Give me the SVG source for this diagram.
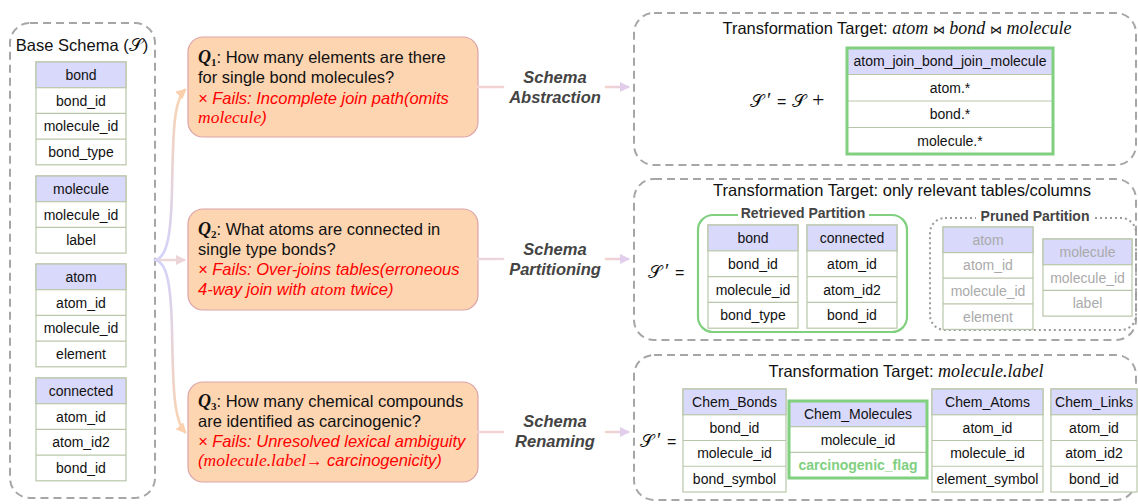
<svg xmlns="http://www.w3.org/2000/svg" width="1138" height="504" viewBox="0 0 1138 504">
<style>
  .panel{fill:none;stroke:#a6a6a6;stroke-width:2;stroke-dasharray:8 5}
  .t{font-family:"Liberation Sans",Arial,sans-serif;font-size:14px;fill:#111;text-anchor:middle}
  .tg{font-family:"Liberation Sans",Arial,sans-serif;font-size:14px;fill:#aaaaaa;text-anchor:middle}
  .cell{fill:#ffffff;stroke:#b9c6a9;stroke-width:1.2}
  .hdr{fill:#d9d9fb;stroke:#b9c6a9;stroke-width:1.2}
  .big{font-family:"Liberation Sans",Arial,sans-serif;font-size:16.5px;fill:#111}
  .q{fill:#fdd5b1;stroke:#dca3a8;stroke-width:1.2}
  .red{fill:#ff0000;font-style:italic}
  .mi{font-family:"Liberation Serif","Times New Roman",serif;font-style:italic}
  .lab{font-family:"Liberation Sans",Arial,sans-serif;font-size:16.5px;font-weight:bold;font-style:italic;fill:#444;text-anchor:middle}
  .plab{font-family:"Liberation Sans",Arial,sans-serif;font-size:14px;font-weight:bold;fill:#444;text-anchor:middle}
  .math{font-family:"DejaVu Serif","DejaVu Sans","Liberation Serif",serif;font-size:18px;fill:#111}
  .pr{font-family:"Liberation Serif",serif;font-size:20px}
  .eq{font-family:"Liberation Sans",sans-serif;font-size:16px}
  .green{fill:none;stroke:#80d080;stroke-width:3}
</style>
<defs>
  <marker id="ahPeach" viewBox="0 0 10 10" refX="8" refY="5" markerWidth="4" markerHeight="4" orient="auto"><path d="M0,0 L10,5 L0,10 z" fill="#fbd0ac"/></marker>
  <marker id="ahPink" viewBox="0 0 10 10" refX="8" refY="5" markerWidth="4" markerHeight="4" orient="auto"><path d="M0,0 L10,5 L0,10 z" fill="#ecd4d8"/></marker>
  <marker id="ahLilac" viewBox="0 0 10 10" refX="8" refY="5" markerWidth="4" markerHeight="4" orient="auto"><path d="M0,0 L10,5 L0,10 z" fill="#e2cdea"/></marker>
  <linearGradient id="gUp" gradientUnits="userSpaceOnUse" x1="0" y1="260" x2="0" y2="89">
    <stop offset="0" stop-color="#d2d2fb"/><stop offset="1" stop-color="#fbd3b0"/>
  </linearGradient>
  <linearGradient id="gDown" gradientUnits="userSpaceOnUse" x1="0" y1="260" x2="0" y2="434">
    <stop offset="0" stop-color="#d2d2fb"/><stop offset="1" stop-color="#fbd3b0"/>
  </linearGradient>
  <linearGradient id="gRight" gradientUnits="userSpaceOnUse" x1="605" y1="0" x2="632" y2="0">
    <stop offset="0" stop-color="#f3d3cc"/><stop offset="1" stop-color="#e2cdea"/>
  </linearGradient>
</defs>

<!-- Left panel: base schema -->
<g id="base-schema">
  <rect class="panel" x="10" y="23" width="145" height="475" rx="20"/>
  <text class="big" x="82" y="51" text-anchor="middle">Base Schema (<tspan class="math" font-size="15">𝒮</tspan>)</text>
</g>
<g id="tbl-bond">
  <rect class="cell" x="36" y="62" width="90" height="102.8"/>
  <rect class="hdr" x="36" y="62" width="90" height="25.7"/>
  <line class="cell" x1="36" y1="113.4" x2="126" y2="113.4"/>
  <line class="cell" x1="36" y1="139.1" x2="126" y2="139.1"/>
  <text class="t" x="81" y="79.9">bond</text>
  <text class="t" x="81" y="105.6">bond_id</text>
  <text class="t" x="81" y="131.3">molecule_id</text>
  <text class="t" x="81" y="157">bond_type</text>
</g>
<g id="tbl-molecule">
  <rect class="cell" x="36" y="176" width="90" height="77.1"/>
  <rect class="hdr" x="36" y="176" width="90" height="25.7"/>
  <line class="cell" x1="36" y1="227.4" x2="126" y2="227.4"/>
  <text class="t" x="81" y="193.9">molecule</text>
  <text class="t" x="81" y="219.6">molecule_id</text>
  <text class="t" x="81" y="245.3">label</text>
</g>
<g id="tbl-atom">
  <rect class="cell" x="36" y="264" width="90" height="102.8"/>
  <rect class="hdr" x="36" y="264" width="90" height="25.7"/>
  <line class="cell" x1="36" y1="315.4" x2="126" y2="315.4"/>
  <line class="cell" x1="36" y1="341.1" x2="126" y2="341.1"/>
  <text class="t" x="81" y="281.9">atom</text>
  <text class="t" x="81" y="307.6">atom_id</text>
  <text class="t" x="81" y="333.3">molecule_id</text>
  <text class="t" x="81" y="359">element</text>
</g>
<g id="tbl-connected">
  <rect class="cell" x="36" y="378" width="90" height="102.8"/>
  <rect class="hdr" x="36" y="378" width="90" height="25.7"/>
  <line class="cell" x1="36" y1="429.4" x2="126" y2="429.4"/>
  <line class="cell" x1="36" y1="455.1" x2="126" y2="455.1"/>
  <text class="t" x="81" y="395.9">connected</text>
  <text class="t" x="81" y="421.6">atom_id</text>
  <text class="t" x="81" y="447.3">atom_id2</text>
  <text class="t" x="81" y="473">bond_id</text>
</g>

<!-- Question nodes -->
<g id="q1">
  <rect class="q" x="188" y="37" width="290" height="100" rx="15"/>
  <text class="big" x="198" y="63"><tspan font-family="Liberation Serif,serif" font-weight="bold" font-style="italic" font-size="18">Q</tspan><tspan font-family="Liberation Serif,serif" font-weight="bold" font-size="11" dy="3">1</tspan><tspan dy="-3">: How many elements are there</tspan></text>
  <text class="big" x="198" y="83">for single bond molecules?</text>
  <text class="big red" x="198" y="104">× Fails: Incomplete join path(omits</text>
  <text class="big red" x="198" y="123"><tspan class="mi" font-size="17.5">molecule</tspan>)</text>
</g>
<g id="q2">
  <rect class="q" x="188" y="209" width="290" height="101" rx="15"/>
  <text class="big" x="198" y="235"><tspan font-family="Liberation Serif,serif" font-weight="bold" font-style="italic" font-size="18">Q</tspan><tspan font-family="Liberation Serif,serif" font-weight="bold" font-size="11" dy="3">2</tspan><tspan dy="-3">: What atoms are connected in</tspan></text>
  <text class="big" x="198" y="255">single type bonds?</text>
  <text class="big red" x="198" y="275">× Fails: Over-joins tables(erroneous</text>
  <text class="big red" x="198" y="295">4-way join with <tspan class="mi" font-size="17.5">atom</tspan> twice)</text>
</g>
<g id="q3">
  <rect class="q" x="188" y="382" width="290" height="100" rx="15"/>
  <text class="big" x="198" y="407"><tspan font-family="Liberation Serif,serif" font-weight="bold" font-style="italic" font-size="18">Q</tspan><tspan font-family="Liberation Serif,serif" font-weight="bold" font-size="11" dy="3">3</tspan><tspan dy="-3">: How many chemical compounds</tspan></text>
  <text class="big" x="198" y="427">are identified as carcinogenic?</text>
  <text class="big red" x="198" y="447">× Fails: Unresolved lexical ambiguity</text>
  <text class="big red" x="198" y="466">(<tspan class="mi" font-size="17.5">molecule.label</tspan>→ carcinogenicity)</text>
</g>

<!-- Method labels -->
<g id="lbl-abstraction">
  <text class="lab" x="555" y="83">Schema</text>
  <text class="lab" x="555" y="103">Abstraction</text>
</g>
<g id="lbl-partitioning">
  <text class="lab" x="555" y="255">Schema</text>
  <text class="lab" x="555" y="275">Partitioning</text>
</g>
<g id="lbl-renaming">
  <text class="lab" x="555" y="427">Schema</text>
  <text class="lab" x="555" y="447">Renaming</text>
</g>

<!-- Connectors -->
<g id="connectors" fill="none" stroke-width="2.6" stroke-linecap="round">
  <path d="M155,260 C167,258 171,235 172,190 C173,130 174,100 185,90" stroke="url(#gUp)" marker-end="url(#ahPeach)"/>
  <path d="M155,260 L184,260" stroke="#ecd8d8" marker-end="url(#ahPink)"/>
  <path d="M155,260 C167,262 171,285 172,330 C173,390 174,420 185,432" stroke="url(#gDown)" marker-end="url(#ahPeach)"/>
  <line x1="478" y1="87" x2="503" y2="87" stroke="#f2d2d2"/>
  <line x1="478" y1="259" x2="503" y2="259" stroke="#ecd6dc"/>
  <line x1="478" y1="432" x2="503" y2="432" stroke="#f2d2d2"/>
  <line x1="606" y1="87" x2="628" y2="87" stroke="url(#gRight)" marker-end="url(#ahLilac)"/>
  <line x1="606" y1="259" x2="628" y2="259" stroke="url(#gRight)" marker-end="url(#ahLilac)"/>
  <line x1="606" y1="432" x2="628" y2="432" stroke="url(#gRight)" marker-end="url(#ahLilac)"/>
</g>

<!-- Panel 1: abstraction -->
<g id="panel-abstraction">
  <rect class="panel" x="634" y="13" width="502" height="152" rx="20"/>
  <text class="big" x="897" y="34" text-anchor="middle">Transformation Target: <tspan class="mi" font-size="18">atom</tspan> <tspan font-size="12">⋈</tspan> <tspan class="mi" font-size="18">bond</tspan> <tspan font-size="12">⋈</tspan> <tspan class="mi" font-size="18">molecule</tspan></text>
  <text class="math" x="750" y="107">𝒮<tspan class="pr" dx="3">′</tspan> <tspan class="eq">=</tspan> 𝒮 <tspan font-family="Liberation Serif,serif" font-size="22">+</tspan></text>
</g>
<g id="tbl-joined">
  <rect x="847" y="48" width="206" height="106" fill="#fff"/>
  <rect x="847" y="48" width="206" height="26.5" fill="#d9d9fb"/>
  <line class="cell" x1="847" y1="74.5" x2="1053" y2="74.5"/>
  <line class="cell" x1="847" y1="101" x2="1053" y2="101"/>
  <line class="cell" x1="847" y1="127.5" x2="1053" y2="127.5"/>
  <rect class="green" x="847" y="48" width="206" height="106"/>
  <text class="t" x="950" y="66.2">atom_join_bond_join_molecule</text>
  <text class="t" x="950" y="92.7">atom.*</text>
  <text class="t" x="950" y="119.2">bond.*</text>
  <text class="t" x="950" y="145.7">molecule.*</text>
</g>

<!-- Panel 2: partitioning -->
<g id="panel-partitioning">
  <rect class="panel" x="634" y="179" width="502" height="161" rx="20"/>
  <text class="big" x="902" y="196" text-anchor="middle">Transformation Target: only relevant tables/columns</text>
  <text class="math" x="648" y="278">𝒮<tspan class="pr" dx="3">′</tspan> <tspan class="eq">=</tspan></text>
</g>
<g id="retrieved-partition">
  <rect x="698" y="215" width="209" height="117" rx="15" fill="none" stroke="#80d080" stroke-width="2.2"/>
  <rect x="738" y="206" width="131" height="16" fill="#fff"/>
  <text class="plab" x="803" y="218">Retrieved Partition</text>
</g>
<g id="r-bond">
  <rect class="cell" x="708" y="225" width="90" height="103.2"/>
  <rect class="hdr" x="708" y="225" width="90" height="25.8"/>
  <line class="cell" x1="708" y1="276.6" x2="798" y2="276.6"/>
  <line class="cell" x1="708" y1="302.4" x2="798" y2="302.4"/>
  <text class="t" x="753" y="243">bond</text>
  <text class="t" x="753" y="268.7">bond_id</text>
  <text class="t" x="753" y="294.5">molecule_id</text>
  <text class="t" x="753" y="320.3">bond_type</text>
</g>
<g id="r-connected">
  <rect class="cell" x="807" y="225" width="90" height="103.2"/>
  <rect class="hdr" x="807" y="225" width="90" height="25.8"/>
  <line class="cell" x1="807" y1="276.6" x2="897" y2="276.6"/>
  <line class="cell" x1="807" y1="302.4" x2="897" y2="302.4"/>
  <text class="t" x="852" y="243">connected</text>
  <text class="t" x="852" y="268.7">atom_id</text>
  <text class="t" x="852" y="294.5">atom_id2</text>
  <text class="t" x="852" y="320.3">bond_id</text>
</g>
<g id="pruned-partition">
  <rect x="930" y="218" width="206" height="112" rx="15" fill="none" stroke="#9a9a9a" stroke-width="2" stroke-dasharray="2 3"/>
  <rect x="976" y="208" width="118" height="16" fill="#fff"/>
  <text class="plab" x="1035" y="221">Pruned Partition</text>
</g>
<g id="p-atom">
  <rect class="cell" x="943" y="227" width="90" height="102.4"/>
  <rect class="hdr" x="943" y="227" width="90" height="25.6"/>
  <line class="cell" x1="943" y1="278.2" x2="1033" y2="278.2"/>
  <line class="cell" x1="943" y1="303.8" x2="1033" y2="303.8"/>
  <text class="tg" x="988" y="244.8">atom</text>
  <text class="tg" x="988" y="270.4">atom_id</text>
  <text class="tg" x="988" y="296">molecule_id</text>
  <text class="tg" x="988" y="321.6">element</text>
</g>
<g id="p-molecule">
  <rect class="cell" x="1043" y="239" width="89" height="77.1"/>
  <rect class="hdr" x="1043" y="239" width="89" height="25.7"/>
  <line class="cell" x1="1043" y1="290.4" x2="1132" y2="290.4"/>
  <text class="tg" x="1087.5" y="256.9">molecule</text>
  <text class="tg" x="1087.5" y="282.5">molecule_id</text>
  <text class="tg" x="1087.5" y="308.2">label</text>
</g>

<!-- Panel 3: renaming -->
<g id="panel-renaming">
  <rect class="panel" x="634" y="355" width="502" height="145" rx="20"/>
  <text class="big" x="906" y="377" text-anchor="middle">Transformation Target: <tspan class="mi" font-size="18">molecule.label</tspan></text>
  <text class="math" x="640" y="447">𝒮<tspan class="pr" dx="3">′</tspan> <tspan class="eq">=</tspan></text>
</g>
<g id="chem-bonds">
  <rect class="cell" x="683" y="389" width="103" height="103"/>
  <rect class="hdr" x="683" y="389" width="103" height="25.75"/>
  <line class="cell" x1="683" y1="440.5" x2="786" y2="440.5"/>
  <line class="cell" x1="683" y1="466.25" x2="786" y2="466.25"/>
  <text class="t" x="734.5" y="406.9">Chem_Bonds</text>
  <text class="t" x="734.5" y="432.6">bond_id</text>
  <text class="t" x="734.5" y="458.4">molecule_id</text>
  <text class="t" x="734.5" y="484.1">bond_symbol</text>
</g>
<g id="chem-molecules">
  <rect x="789" y="401" width="138" height="77" fill="#fff"/>
  <rect x="789" y="401" width="138" height="25.7" fill="#d9d9fb"/>
  <line class="cell" x1="789" y1="426.7" x2="927" y2="426.7"/>
  <line class="cell" x1="789" y1="452.3" x2="927" y2="452.3"/>
  <rect class="green" x="789" y="401" width="138" height="77"/>
  <text class="t" x="858" y="418.8">Chem_Molecules</text>
  <text class="t" x="858" y="444.5">molecule_id</text>
  <text class="t" x="858" y="470.2" style="fill:#80d080;font-weight:bold">carcinogenic_flag</text>
</g>
<g id="chem-atoms">
  <rect class="cell" x="932" y="389" width="111" height="103"/>
  <rect class="hdr" x="932" y="389" width="111" height="25.75"/>
  <line class="cell" x1="932" y1="440.5" x2="1043" y2="440.5"/>
  <line class="cell" x1="932" y1="466.25" x2="1043" y2="466.25"/>
  <text class="t" x="987.5" y="406.9">Chem_Atoms</text>
  <text class="t" x="987.5" y="432.6">atom_id</text>
  <text class="t" x="987.5" y="458.4">molecule_id</text>
  <text class="t" x="987.5" y="484.1">element_symbol</text>
</g>
<g id="chem-links">
  <rect class="cell" x="1051" y="389" width="86" height="103"/>
  <rect class="hdr" x="1051" y="389" width="86" height="25.75"/>
  <line class="cell" x1="1051" y1="440.5" x2="1137" y2="440.5"/>
  <line class="cell" x1="1051" y1="466.25" x2="1137" y2="466.25"/>
  <text class="t" x="1094" y="406.9">Chem_Links</text>
  <text class="t" x="1094" y="432.6">atom_id</text>
  <text class="t" x="1094" y="458.4">atom_id2</text>
  <text class="t" x="1094" y="484.1">bond_id</text>
</g>
</svg>
